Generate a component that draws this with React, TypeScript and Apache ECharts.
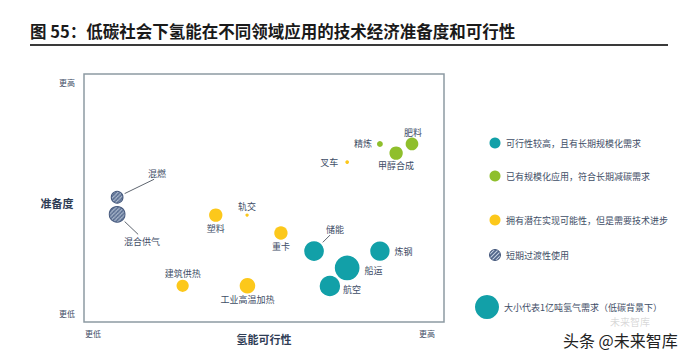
import React, { useEffect, useRef } from 'react';
import * as echarts from 'echarts';

// ---- data ----
const names = ['混燃', '混合供气', '塑料', '建筑供热', '轨交', '重卡', '工业高温加热', '储能', '炼钢', '船运', '航空', '叉车', '精炼', '甲醇合成', '肥料'];
// 氢能可行性 (0 = 更低, 100 = 更高)
const feasibility = [9.2, 9.2, 36.6, 27.4, 45.3, 54.7, 45.4, 63.9, 82.2, 73.1, 68.3, 73.1, 82.2, 86.7, 91.1];
// 准备度 (0 = 更低, 100 = 更高)
const readiness = [50.3, 43.4, 43.1, 14.6, 43.1, 35.9, 14.6, 28.6, 28.6, 21.8, 14.5, 64.5, 71.8, 68.1, 71.8];
// 氢气需求（亿吨，低碳背景下）
const demand = [0.24, 0.43, 0.31, 0.26, 0.02, 0.31, 0.42, 0.67, 0.65, 1.06, 0.72, 0.024, 0.06, 0.31, 0.28];
const groups = ['transition', 'transition', 'potential', 'potential', 'potential', 'potential', 'potential', 'high', 'high', 'high', 'high', 'potential', 'scaled', 'scaled', 'scaled'];
const legendKeys = ['high', 'scaled', 'potential', 'transition'];
const legendTexts = ['可行性较高，且有长期规模化需求', '已有规模化应用，符合长期减碳需求', '拥有潜在实现可能性，但是需要技术进步', '短期过渡性使用'];
const sizeLegendText = '大小代表1亿吨氢气需求（低碳背景下）';
const sizeLegendValue = 1;
const xTickLabels = ['更低', '更高'];
const yTickLabels = ['更低', '更高'];
const titleText = '图 55：低碳社会下氢能在不同领域应用的技术经济准备度和可行性';

const FONT = '"Noto Sans CJK SC", "Noto Sans", sans-serif';
const LABEL_COLOR = '#3e4d66';
const UNIT_DIAMETER = 24;

const colors: Record<string, string> = {
  high: '#12a0a8',
  scaled: '#8fbf2c',
  potential: '#fcc81b',
  transition: '#52678c',
};

// label placement for each point: [position, distance, dx, dy, leaderEnd(dx,dy from label centre) | null]
const labelPlacement: Array<[string, number, number, number, [number, number] | null]> = [
  ['inside', 0, 40, -24, [-3, 6]],
  ['inside', 0, 25, 27, [-4, -7]],
  ['bottom', 2, 0, 0, null],
  ['top', 2, 0, 0, null],
  ['top', 2, 0, 0, null],
  ['bottom', 2, 0, 0, null],
  ['bottom', 1, 0, 0, null],
  ['inside', 0, 21, -22, [-5, 6]],
  ['right', 5, 0, 0, null],
  ['right', 5, 0, 3, null],
  ['right', 3, 0, 3, null],
  ['left', 7, 0, 0, null],
  ['left', 5, 0, 0, null],
  ['bottom', 1, 0, 0, null],
  ['top', 1, 1, 0, null],
];

let hatchCanvas: HTMLCanvasElement | null = null;
function hatchImage(): HTMLCanvasElement {
  if (hatchCanvas) return hatchCanvas;
  const c = document.createElement('canvas');
  c.width = 4;
  c.height = 4;
  const ctx = c.getContext('2d')!;
  ctx.fillStyle = '#4f6489';
  ctx.fillRect(0, 0, 4, 4);
  ctx.strokeStyle = '#c9d4e3';
  ctx.lineWidth = 1.1;
  ctx.beginPath();
  ctx.moveTo(0, 4);
  ctx.lineTo(4, 0);
  ctx.moveTo(-1, 1);
  ctx.lineTo(1, -1);
  ctx.moveTo(3, 5);
  ctx.lineTo(5, 3);
  ctx.stroke();
  hatchCanvas = c;
  return c;
}
// scale compensates for the element's own transform (scatter symbols are unit paths scaled up)
function hatchPattern(scale: number): any {
  return { image: hatchImage(), repeat: 'repeat', imageWidth: 4, imageHeight: 4, scaleX: scale, scaleY: scale };
}

export default function App() {
  const ref = useRef<HTMLDivElement>(null);

  useEffect(() => {
    if (!ref.current) return;
    const chart = echarts.init(ref.current, null, { renderer: 'svg' });
    const sizeOf = (v: number) => UNIT_DIAMETER * Math.sqrt(v);

    const data = names.map((n, i) => {
      const [pos, dist] = labelPlacement[i];
      const g = groups[i];
      const size = sizeOf(demand[i]);
      return {
        name: n,
        value: [feasibility[i], readiness[i], demand[i]],
        symbolSize: size,
        itemStyle: {
          color: g === 'transition' ? hatchPattern(2 / size) : colors[g],
          opacity: 1,
          borderColor: g === 'transition' ? '#46597d' : 'transparent',
          borderWidth: g === 'transition' ? 1 : 0,
        },
        label: { position: pos, distance: dist },
      };
    });

    const legendGraphics: any[] = [];
    const legendY = [143, 176, 220, 255];
    legendKeys.forEach((k, i) => {
      legendGraphics.push({
        type: 'circle',
        shape: { cx: 495, cy: legendY[i], r: 5.5 },
        style: {
          fill: k === 'transition' ? hatchPattern(1) : colors[k],
          stroke: k === 'transition' ? '#46597d' : null,
          lineWidth: k === 'transition' ? 1 : 0,
        },
      });
      legendGraphics.push({
        type: 'text',
        x: 506,
        y: legendY[i],
        style: { text: legendTexts[i], font: `9px ${FONT}`, fill: LABEL_COLOR, verticalAlign: 'middle', align: 'left' },
      });
    });
    legendGraphics.push({
      type: 'circle',
      shape: { cx: 487, cy: 307, r: sizeOf(sizeLegendValue) / 2 },
      style: { fill: colors.high },
    });
    legendGraphics.push({
      type: 'text',
      x: 504,
      y: 307,
      style: { text: sizeLegendText, font: `9px ${FONT}`, fill: LABEL_COLOR, verticalAlign: 'middle', align: 'left' },
    });

    const baseGraphics: any[] = [
      {
        type: 'text', x: 30, y: 31,
        style: { text: titleText, font: `bold 16.5px ${FONT}`, fill: '#1a1a1a', verticalAlign: 'middle', align: 'left' },
      },
      { type: 'rect', shape: { x: 30, y: 44, width: 638, height: 2 }, style: { fill: '#3a3a3a' } },
      { type: 'text', x: 57, y: 203, style: { text: '准备度', font: `bold 11px ${FONT}`, fill: '#2f3d55', verticalAlign: 'middle', align: 'center' } },
      { type: 'text', x: 75, y: 82, style: { text: yTickLabels[1], font: `8px ${FONT}`, fill: LABEL_COLOR, verticalAlign: 'middle', align: 'right' } },
      { type: 'text', x: 75, y: 313, style: { text: yTickLabels[0], font: `8px ${FONT}`, fill: LABEL_COLOR, verticalAlign: 'middle', align: 'right' } },
      { type: 'text', x: 85, y: 333, style: { text: xTickLabels[0], font: `8px ${FONT}`, fill: LABEL_COLOR, verticalAlign: 'middle', align: 'left' } },
      { type: 'text', x: 435, y: 333, style: { text: xTickLabels[1], font: `8px ${FONT}`, fill: LABEL_COLOR, verticalAlign: 'middle', align: 'right' } },
      ...legendGraphics,
      { type: 'text', x: 610, y: 321, style: { text: '未来智库', font: `10px ${FONT}`, fill: 'rgba(120,120,120,0.3)', verticalAlign: 'middle', align: 'left' } },
      { type: 'text', x: 563, y: 340, style: { text: '头条 @未来智库', font: `16px ${FONT}`, fill: '#222222', stroke: '#ffffff', lineWidth: 2, verticalAlign: 'middle', align: 'left' } },
    ];

    chart.setOption({
      animation: false,
      backgroundColor: '#ffffff',
      grid: { left: 84, top: 74, width: 360, height: 248, show: true, borderColor: '#8d9aa3', borderWidth: 1.5 },
      xAxis: {
        type: 'value', min: 0, max: 100,
        axisLine: { show: false }, axisTick: { show: false }, splitLine: { show: false }, axisLabel: { show: false },
        name: '氢能可行性', nameLocation: 'middle', nameGap: 11,
        nameTextStyle: { fontFamily: FONT, fontSize: 11, fontWeight: 'bold', color: '#2f3d55' },
      },
      yAxis: {
        type: 'value', min: 0, max: 100,
        axisLine: { show: false }, axisTick: { show: false }, splitLine: { show: false }, axisLabel: { show: false },
      },
      graphic: baseGraphics,
      series: [
        {
          type: 'scatter',
          data,
          label: {
            show: true,
            formatter: '{b}',
            fontFamily: FONT,
            fontSize: 9,
            color: LABEL_COLOR,
          },
          labelLayout: (p: any) => {
            const pl = labelPlacement[p.dataIndex];
            return { dx: pl[2], dy: pl[3] };
          },
          emphasis: { disabled: true },
        },
      ],
    });

    // leader lines from bubbles to moved labels, positioned through the grid's scales
    const leaders: any[] = [];
    names.forEach((_, i) => {
      const pl = labelPlacement[i];
      const end = pl[4];
      if (!end) return;
      const p = chart.convertToPixel({ gridIndex: 0 }, [feasibility[i], readiness[i]]) as number[];
      const ex = p[0] + pl[2] + end[0];
      const ey = p[1] + pl[3] + end[1];
      const vx = ex - p[0];
      const vy = ey - p[1];
      const len = Math.sqrt(vx * vx + vy * vy);
      const r = sizeOf(demand[i]) / 2 + 2.5;
      leaders.push({
        type: 'line',
        shape: { x1: p[0] + (vx / len) * r, y1: p[1] + (vy / len) * r, x2: ex, y2: ey },
        style: { stroke: '#5f6670', lineWidth: 1 },
      });
    });
    chart.setOption({ graphic: [...baseGraphics, ...leaders] });

    return () => chart.dispose();
  }, []);

  return <div ref={ref} style={{ position: 'fixed', left: 0, top: 0, width: 700, height: 355 }} />;
}
